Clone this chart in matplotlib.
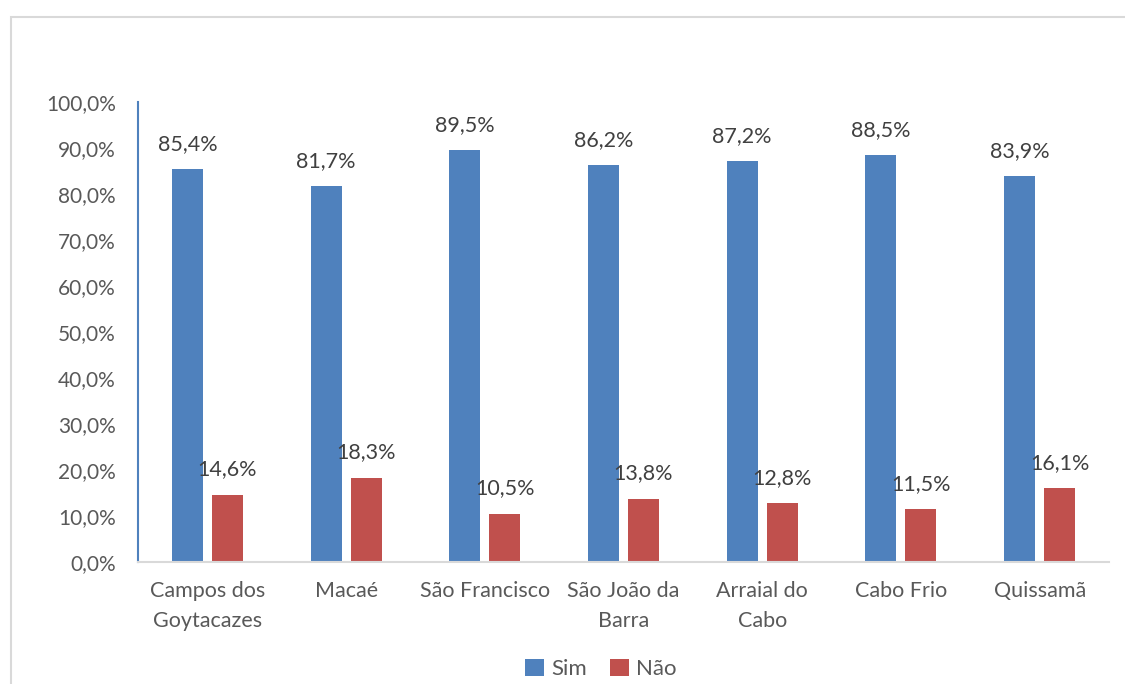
import matplotlib
matplotlib.use("Agg")
import matplotlib.pyplot as plt
import numpy as np
from matplotlib.patches import Rectangle

plt.rcParams['font.family'] = ['Lato', 'DejaVu Sans']

categories = ["Campos dos\nGoytacazes", "Macaé", "São Francisco", "São João da\nBarra",
              "Arraial do\nCabo", "Cabo Frio", "Quissamã"]
sim = [85.4, 81.7, 89.5, 86.2, 87.2, 88.5, 83.9]
nao = [14.6, 18.3, 10.5, 13.8, 12.8, 11.5, 16.1]
yticks = [0, 10, 20, 30, 40, 50, 60, 70, 80, 90, 100]

BLUE = "#4F81BD"
RED = "#C0504D"
TXT = "#595959"

fig = plt.figure(figsize=(11.25, 6.84), dpi=100)
fig.patch.set_facecolor("white")

# outer chart border
fig.patches.append(Rectangle((11 / 1125, -0.05), 1.2, 0.975 + 0.05, transform=fig.transFigure,
                             fill=False, edgecolor="#D9D9D9", linewidth=1.5, zorder=0))

ax = fig.add_axes([138 / 1125, 1 - 562 / 684, (1109 - 138) / 1125, (562 - 102) / 684])

x = np.arange(len(categories))
w = 0.224
off = 0.144
b1 = ax.bar(x - off, sim, width=w, color=BLUE, label="Sim")
b2 = ax.bar(x + off, nao, width=w, color=RED, label="Não")

def fmt(v):
    return f"{v:.1f}%".replace(".", ",")

for bars, vals in ((b1, sim), (b2, nao)):
    for r, v in zip(bars, vals):
        ax.annotate(fmt(v), (r.get_x() + r.get_width() / 2, v), xytext=(0, 11),
                    textcoords="offset points", ha="center", va="bottom",
                    fontsize=15.5, color="#404040")

ax.set_xlim(-0.5, len(categories) - 0.5)
ax.set_ylim(0, 100)
ax.set_yticks(yticks)
ax.set_yticklabels([f"{t:.1f}%".replace(".", ",") for t in yticks])
ax.set_xticks(x)
ax.set_xticklabels(categories, linespacing=1.6)
ax.tick_params(axis="y", length=0, pad=16, labelsize=15, labelcolor=TXT)
ax.tick_params(axis="x", length=0, pad=14, labelsize=15.5, labelcolor=TXT)

for s in ("top", "right"):
    ax.spines[s].set_visible(False)
ax.spines["left"].set_color(BLUE)
ax.spines["left"].set_linewidth(1.5)
ax.spines["bottom"].set_color("#D9D9D9")
ax.spines["bottom"].set_linewidth(1.5)

fig.legend(handles=[b1, b2], labels=["Sim", "Não"], loc="center", bbox_to_anchor=(601 / 1125, 1 - 669 / 684),
           ncol=2, frameon=False, fontsize=16, labelcolor=TXT, handlelength=0.85, handleheight=0.85,
           handletextpad=0.35, columnspacing=1.0, borderpad=0)

fig.savefig("out.png", dpi=100)
